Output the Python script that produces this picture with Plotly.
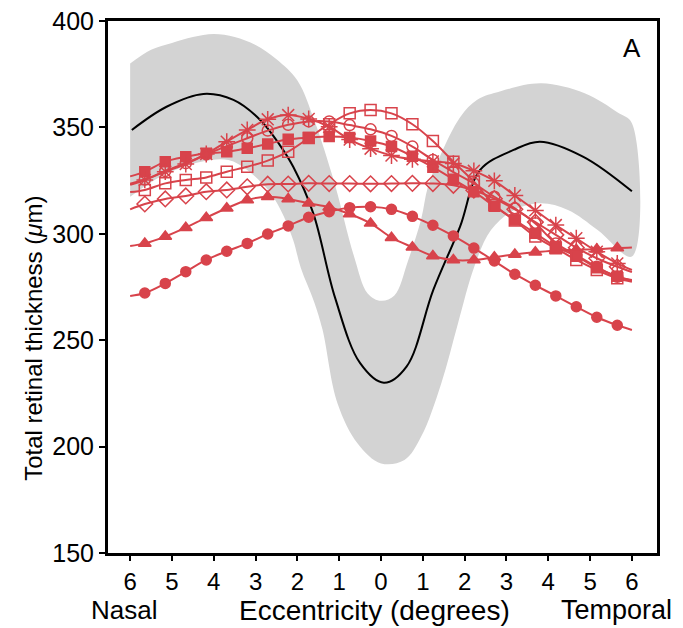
import plotly.graph_objects as go

# eccentricity: nasal negative, temporal positive (degrees)
ecc = [-5.65, -5.16, -4.67, -4.18, -3.69, -3.20, -2.71, -2.22, -1.73, -1.24, -0.75, -0.25,
       0.25, 0.75, 1.24, 1.73, 2.22, 2.71, 3.20, 3.69, 4.18, 4.67, 5.16, 5.65]
x_ends = [-6, 6]

# normal reference: mean curve and band (um)
norm_x = [-5.96, -5.13, -4.25, -3.53, -2.89, -2.42, -2.10, -1.62, -1.10, -0.50, 0.07,
          0.61, 1.25, 1.89, 2.37, 3.17, 3.80, 4.84, 6.0]
norm_mean = [348.8, 359.7, 365.7, 362.9, 353.5, 341.7, 331.5, 309.6, 270.0, 239.2, 230.0,
             237.6, 273.6, 303.4, 330.0, 339.4, 343.3, 336.2, 320.0]
band_up_x = [-6, -5.5, -5, -4.5, -4, -3.5, -3, -2.5, -2, -1.6, -1.13, -0.64, -0.32, 0, 0.32,
             0.64, 0.96, 1.12, 1.4, 1.9, 2.3, 2.86, 3.83, 4.87, 5.66, 6]
band_up = [380, 386.5, 389.7, 392.5, 393.9, 392.5, 388.7, 382, 372, 353.5, 325, 289, 272,
           268.5, 271, 287, 307, 322, 336, 355, 363, 367, 370.7, 366, 357, 352]
band_lo_x = [-6, -5.2, -4.3, -3.65, -3.2, -2.7, -2.4, -2.1, -1.92, -1.6, -1.4, -1.04, -0.56,
             0, 0.56, 0.96, 1.44, 1.84, 2.23, 2.63, 3.19, 3.83, 4.47, 5.18, 6]
band_lo = [317.4, 327.6, 333.9, 334.7, 330, 320.6, 311.2, 297, 284, 268, 255, 220.3, 201.5,
           192.1, 193.7, 204.7, 229.7, 257.9, 284.5, 301.8, 311.2, 314.3, 311.2, 301.8, 289.3]

# patients (um) at ecc, plus curve ends at -6 / 6
p_circle = [272.2, 276.7, 282.2, 287.7, 291.8, 295.5, 299.9, 303.7, 307.8, 310.4, 312.3, 312.7,
            311.5, 308.2, 304.0, 299.0, 293.3, 287.2, 281.0, 275.8, 270.8, 265.7, 260.8, 257.0]
p_circle_ends = [270.8, 254.8]
p_triangle = [295.5, 298.7, 302.9, 307.6, 312.0, 315.9, 317.4, 316.4, 314.3, 312.5, 309.3, 304.9,
              298.2, 293.7, 289.6, 287.7, 287.7, 289.0, 290.3, 291.3, 292.2, 292.5, 292.7, 293.3]
p_triangle_ends = [294.3, 293.6]
p_diamond = [314.0, 316.4, 317.8, 319.8, 320.6, 322.1, 323.3, 323.4, 323.7, 323.6, 323.6, 323.5,
             323.6, 323.7, 323.6, 322.8, 320.5, 316.5, 311.5, 305.5, 299.5, 293.5, 288.5, 284.5]
p_diamond_ends = [311.5, 282.0]
p_square_open = [320.6, 323.7, 325.3, 326.5, 329.2, 331.5, 334.4, 338.6, 345.0, 351.5, 356.6, 358.2,
                 356.6, 351.5, 343.6, 333.9, 324.5, 313.5, 306.2, 298.7, 293.2, 287.7, 283.0, 279.1]
p_square_open_ends = [319.6, 277.5]
p_circle_open = [325.5, 329.5, 333.2, 337.3, 341.2, 344.9, 348.5, 351.2, 352.8, 352.8, 351.1, 349.1,
                 346.0, 341.0, 334.7, 329.0, 323.7, 317.4, 312.0, 304.9, 295.5, 290.0, 284.5, 279.8]
p_circle_open_ends = [323.5, 278.3]
p_square = [329.2, 333.9, 336.2, 337.8, 338.5, 340.2, 342.2, 344.4, 345.2, 345.7, 345.2, 343.6,
            341.0, 336.4, 331.3, 325.6, 319.8, 313.0, 306.5, 300.2, 294.0, 289.5, 284.0, 280.0]
p_square_ends = [327.0, 278.0]
p_star = [325.3, 329.2, 332.8, 337.5, 343.3, 348.8, 353.8, 355.8, 354.0, 350.3, 344.3, 340.0,
          336.8, 335.0, 334.0, 333.0, 329.6, 324.9, 318.0, 311.0, 304.1, 297.9, 291.6, 286.1]
p_star_ends = [323.0, 283.0]

tick_vals = [-6, -5, -4, -3, -2, -1, 0, 1, 2, 3, 4, 5, 6]
tick_text = ['6', '5', '4', '3', '2', '1', '0', '1', '2', '3', '4', '5', '6']

RED = '#d8434b'
FONT = 'Liberation Sans, Arial, sans-serif'

fig = go.Figure()

# gray normal band as closed polygon
fig.add_trace(go.Scatter(
    x=band_up_x + band_lo_x[::-1],
    y=band_up + band_lo[::-1],
    mode='lines', fill='toself', fillcolor='#d3d3d3',
    line=dict(width=0, color='#d3d3d3', shape='spline', smoothing=1),
    hoverinfo='skip', showlegend=False,
))
fig.add_trace(go.Scatter(
    x=norm_x, y=norm_mean, mode='lines',
    line=dict(color='black', width=2, shape='spline', smoothing=1),
    showlegend=False,
))

patients = [
    (p_circle, p_circle_ends, 'circle', 10),
    (p_triangle, p_triangle_ends, 'triangle-up', 11),
    (p_diamond, p_diamond_ends, 'diamond-open', 12),
    (p_square_open, p_square_open_ends, 'square-open', 11),
    (p_circle_open, p_circle_open_ends, 'circle-open', 11),
    (p_square, p_square_ends, 'square', 10),
    (p_star, p_star_ends, 'asterisk-open', 14),
]
for vals, ends, sym, size in patients:
    fig.add_trace(go.Scatter(
        x=[x_ends[0]] + ecc + [x_ends[1]],
        y=[ends[0]] + vals + [ends[1]],
        mode='lines',
        line=dict(color=RED, width=2, shape='spline', smoothing=1),
        showlegend=False,
    ))
    fig.add_trace(go.Scatter(
        x=ecc, y=vals, mode='markers',
        marker=dict(symbol=sym, size=size, color=RED, line=dict(color=RED, width=1.5)),
        showlegend=False,
    ))

# the page puts the figure 8px in from the top-left corner, so the figure is 8px smaller
fig.update_layout(
    width=675, height=620,
    margin=dict(l=100, r=26, t=13, b=75),
    paper_bgcolor='white', plot_bgcolor='white',
    font=dict(family=FONT, size=25, color='black'),
    xaxis=dict(
        range=[-6.53, 6.6], tickvals=tick_vals, ticktext=tick_text,
        showgrid=False, zeroline=False, automargin=False,
        showline=True, linecolor='black', linewidth=3, mirror=True,
        ticks='outside', ticklen=5, tickwidth=1.5, tickcolor='black',
        tickfont=dict(size=24), ticklabeloverflow='allow',
    ),
    yaxis=dict(
        range=[150, 400], tickvals=[150, 200, 250, 300, 350, 400],
        showgrid=False, zeroline=False, automargin=False,
        showline=True, linecolor='black', linewidth=3, mirror=True,
        ticks='outside', ticklen=6, tickwidth=1.5, tickcolor='black',
        tickfont=dict(size=25), ticklabeloverflow='allow',
    ),
    annotations=[
        dict(text='A', x=0.955, y=0.95, xref='paper', yref='paper', showarrow=False,
             xanchor='center', yanchor='middle', font=dict(size=26)),
        dict(text='Total retinal thickness (<i>\u03bc</i>m)', x=-0.137, y=0.404,
             xref='paper', yref='paper', textangle=-90, showarrow=False,
             xanchor='center', yanchor='middle', font=dict(size=24)),
        dict(text='Nasal', x=0.03, y=-0.108, xref='paper', yref='paper', showarrow=False,
             xanchor='center', yanchor='middle', font=dict(size=26)),
        dict(text='Eccentricity (degrees)', x=0.486, y=-0.108, xref='paper', yref='paper',
             showarrow=False, xanchor='center', yanchor='middle', font=dict(size=28)),
        dict(text='Temporal', x=0.927, y=-0.108, xref='paper', yref='paper', showarrow=False,
             xanchor='center', yanchor='middle', font=dict(size=27)),
        # neighbouring panel's axis title, cut off by the image edge
        dict(text='GCL+IPL thickness (\u03bcm)', x=1.065, y=0.52, xref='paper', yref='paper',
             textangle=-90, showarrow=False, xanchor='center', yanchor='middle',
             font=dict(size=25)),
    ],
)

fig.write_html('out.html')
